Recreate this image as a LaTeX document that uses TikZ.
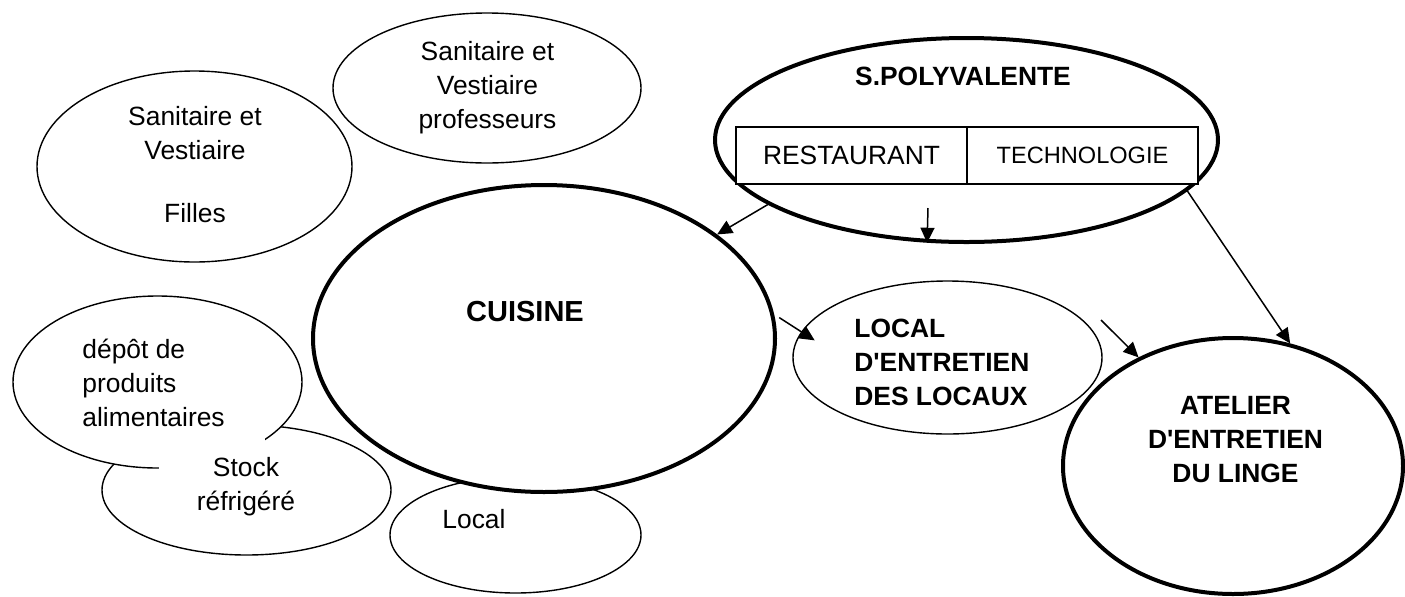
\documentclass[tikz,border=0pt]{standalone}
\usepackage{fontspec}
\setmainfont{Liberation Sans}
\usetikzlibrary{shapes.geometric}
\usetikzlibrary{arrows.meta}

\begin{document}
\begin{tikzpicture}[x=0.5pt,y=-0.5pt,
  room/.style={draw,ellipse,line width=0.7pt,inner sep=0pt},
  bigroom/.style={draw,ellipse,line width=2pt,inner sep=0pt},
  lbl/.style={inner sep=0pt,font=\fontsize{13.2}{17}\selectfont},
  blbl/.style={inner sep=0pt,font=\fontsize{13.2}{17}\selectfont\bfseries},
  part/.style={draw,fill=white,line width=1pt,inner sep=0pt,minimum width=115.5pt,minimum height=28.5pt},
  arr/.style={line width=0.75pt,-{Triangle[length=7.5pt,width=7pt]}}]
\useasboundingbox (0,0) rectangle (1405,596);

\node[room,minimum width=157.5pt,minimum height=95.5pt] (filles) at (194.5,166.5) {};
\node[lbl,align=center,anchor=base] (filles-txt) at (195,222) {Sanitaire et\\Vestiaire\\[14.5pt]Filles};

\node[room,minimum width=154pt,minimum height=75pt] (profs) at (487,88) {};
\node[lbl,align=center,anchor=base] (profs-txt) at (487.5,128) {Sanitaire et\\Vestiaire\\professeurs};

\node[room,minimum width=125.5pt,minimum height=58pt] (lcl) at (515.5,535) {};
\node[lbl,anchor=base west] (lcl-txt) at (442,528) {Local};

\node[bigroom,fill=white,minimum width=231pt,minimum height=153.5pt] (cuisine) at (544,338.5) {};
\node[inner sep=0pt,font=\fontsize{14.5}{17}\selectfont\bfseries,anchor=base] (cuisine-txt) at (525,321) {CUISINE};

\node[room,minimum width=144.5pt,minimum height=65pt] (stock) at (246.5,490) {};
\node[room,fill=white,minimum width=144.5pt,minimum height=86pt] (depot) at (157.5,382) {};
\node[lbl,align=left,anchor=base west] (depot-txt) at (82,426) {dépôt de\\produits\\alimentaires};
\fill[white] (159,436) rectangle (265,470);
\node[lbl,align=center,anchor=base] (stock-txt) at (246,510) {Stock\\réfrigéré};

\node[bigroom,minimum width=251.5pt,minimum height=102pt] (poly) at (966.5,140) {};
\node[blbl,anchor=base] (poly-txt) at (963,85) {S.POLYVALENTE};
\node[part,font=\fontsize{13.2}{17}\selectfont] (resto) at (851.5,155.5) {RESTAURANT};
\node[part,font=\fontsize{11.8}{14}\selectfont] (techno) at (1082.5,155.5) {TECHNOLOGIE};

\node[room,minimum width=154.5pt,minimum height=76.5pt] (entretien) at (947.5,357.5) {};
\node[blbl,align=left,anchor=base west] (entretien-txt) at (854,405) {LOCAL\\D\textquotesingle ENTRETIEN\\DES LOCAUX};

\node[bigroom,minimum width=170pt,minimum height=128pt] (atelier) at (1233,466) {};
\node[blbl,align=center,anchor=base] (atelier-txt) at (1235.5,482) {ATELIER\\D\textquotesingle ENTRETIEN\\DU LINGE};

\coordinate (drop) at (928,208);
\coordinate (lnk) at (1101,320);
\draw[arr] (poly.198.5) -- (cuisine.31);
\draw[arr] (drop) -- (poly.249.5);
\draw[arr,shorten <=3pt,shorten >=-8pt] (cuisine.6) -- (entretien.170);
\draw[arr] (lnk) -- (atelier.131);
\draw[arr] (poly.-13.5) -- (atelier.65);

\end{tikzpicture}
\end{document}
